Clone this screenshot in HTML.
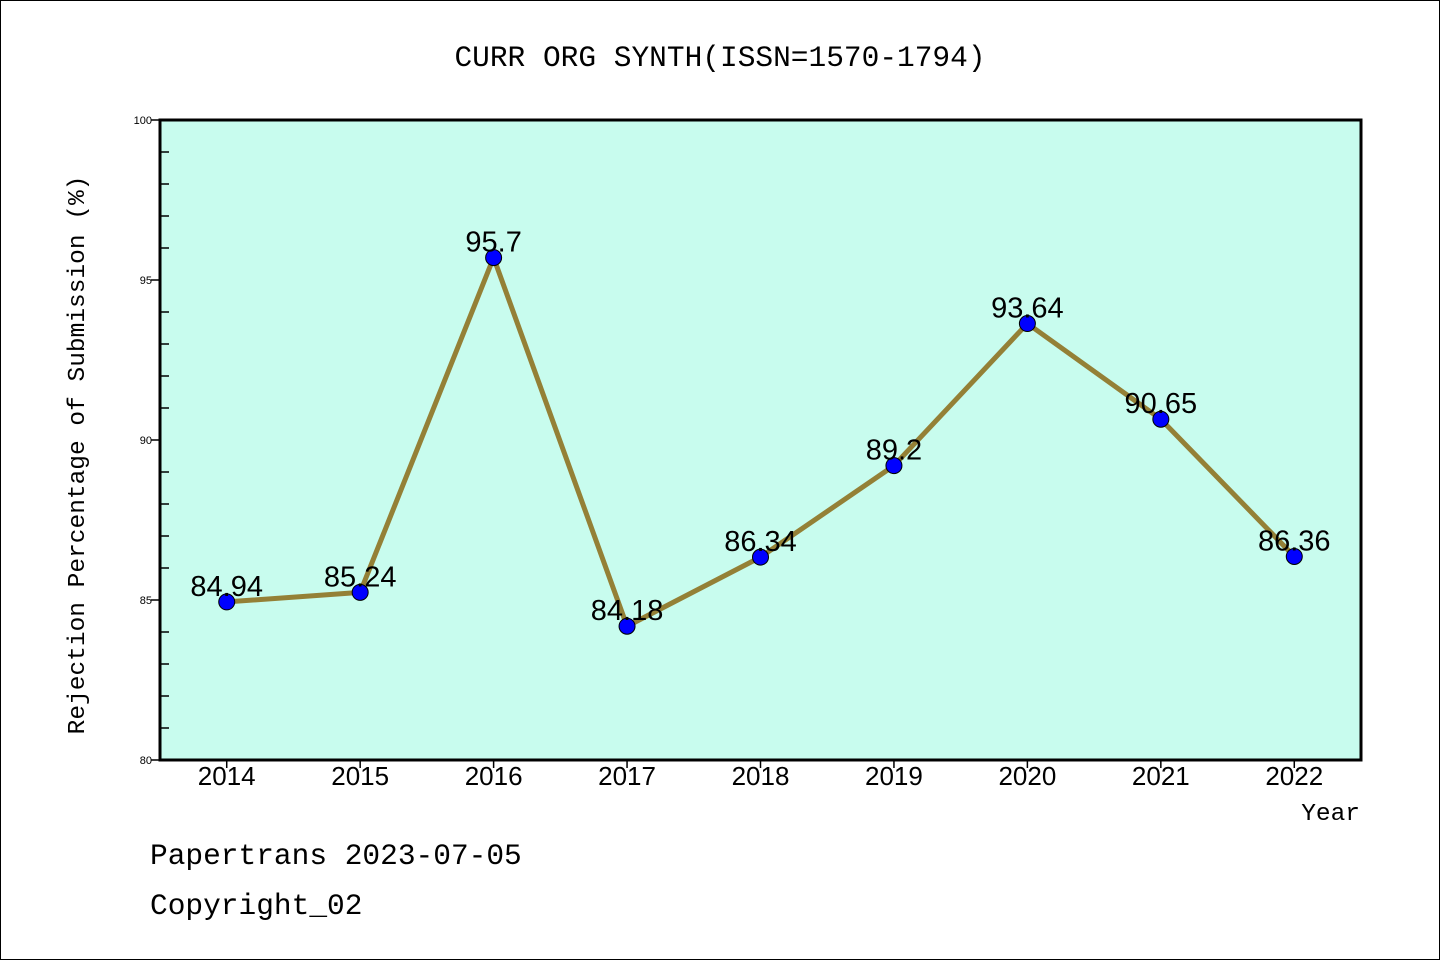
<!DOCTYPE html>
<html><head><meta charset="utf-8"><style>
html,body{margin:0;padding:0;background:#fff;}
svg{display:block;}
</style></head><body>
<svg id="chart" width="1440" height="960" xmlns="http://www.w3.org/2000/svg">
<rect x="0.5" y="0.5" width="1439" height="959" fill="#fff" stroke="#000" stroke-width="1"/>
<text x="720" y="66" text-anchor="middle" font-family="Liberation Mono, monospace" font-size="29.5">CURR ORG SYNTH(ISSN=1570-1794)</text>
<rect x="160" y="120" width="1201" height="640" fill="#c8fcee"/>
<g id="axes"></g>
<g id="series"></g>
<rect x="160" y="120" width="1201" height="640" fill="none" stroke="#000" stroke-width="3"/>
<text transform="translate(84,455) rotate(-90)" text-anchor="middle" font-family="Liberation Mono, monospace" font-size="24.5">Rejection Percentage of Submission (%)</text>
<text x="1360" y="820" text-anchor="end" font-family="Liberation Mono, monospace" font-size="24.5">Year</text>
<text x="150" y="864" font-family="Liberation Mono, monospace" font-size="29.5">Papertrans 2023-07-05</text>
<text x="150" y="914" font-family="Liberation Mono, monospace" font-size="29.5">Copyright_02</text>
</svg>
<script>
const years = [2014,2015,2016,2017,2018,2019,2020,2021,2022];
const rates = [84.94,85.24,95.7,84.18,86.34,89.2,93.64,90.65,86.36];
const valueLabels = ["84.94","85.24","95.7","84.18","86.34","89.2","93.64","90.65","86.36"];
const yTicks = [80,85,90,95,100];
const NS = "http://www.w3.org/2000/svg";
const L=160,R=1361,T=120,B=760;
function xs(i){ return L + (i+0.5)*(R-L)/years.length; }
function ys(v){ return B - (v-80)/(100-80)*(B-T); }
function mk(tag,attrs,parent){ const e=document.createElementNS(NS,tag); for(const k in attrs) e.setAttribute(k,attrs[k]); parent.appendChild(e); return e; }
const axes=document.getElementById('axes'), ser=document.getElementById('series');
for(let v=81; v<100; v++){
  if(v%5===0) continue;
  const t=mk('line',{x1:L,x2:L+9,y1:ys(v),y2:ys(v),stroke:'#000','stroke-width':1.5},axes);
  
  
}
yTicks.forEach(v=>{
  const t=mk('line',{x1:L-9,x2:L,y1:ys(v),y2:ys(v),stroke:'#000','stroke-width':1.5},axes);
  
  
  const tx=mk('text',{x:L-8,y:ys(v)+4,'text-anchor':'end','font-family':'Liberation Sans, sans-serif','font-size':11},axes);
  tx.textContent=v;
  
  
});
years.forEach((y,i)=>{
  const t=mk('line',{x1:xs(i),x2:xs(i),y1:B,y2:B+8,stroke:'#000','stroke-width':1.5},axes);
  
  
  const tx=mk('text',{x:xs(i),y:B+25,'text-anchor':'middle','font-family':'Liberation Sans, sans-serif','font-size':26},axes);
  tx.textContent=y;
  
  
});
const pts=rates.map((v,i)=>xs(i)+','+ys(v)).join(' ');
const line=mk('polyline',{points:pts,fill:'none',stroke:'#948036','stroke-width':5,'stroke-linejoin':'round'},ser);


rates.forEach((v,i)=>{
  const c=mk('circle',{cx:xs(i),cy:ys(v),r:8,fill:'#0000ff',stroke:'#000','stroke-width':1},ser);
  
  
});
rates.forEach((v,i)=>{
  const tx=mk('text',{x:xs(i),y:ys(v)-6,'text-anchor':'middle','font-family':'Liberation Sans, sans-serif','font-size':29},ser);
  tx.textContent=valueLabels[i];
  
  
});
</script>
</body></html>
